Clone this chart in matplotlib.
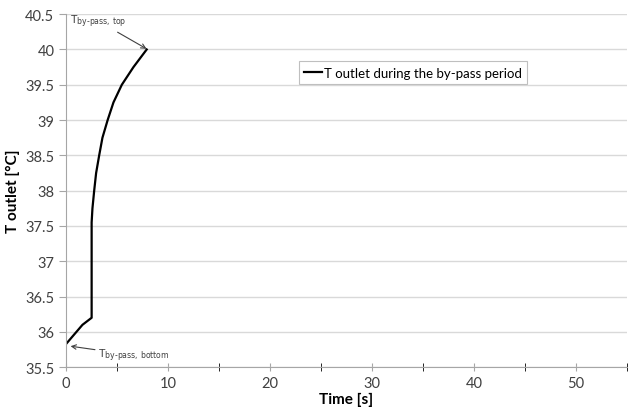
import matplotlib
matplotlib.use("Agg")
import matplotlib.pyplot as plt
from matplotlib.ticker import MultipleLocator

plt.rcParams['font.family'] = ['Lato', 'DejaVu Sans']

# data
time_s = [0.0, 1.6, 2.5, 2.5, 2.58, 2.75, 2.94, 3.24, 3.56, 4.07, 4.64, 5.46, 6.6, 7.9]
t_outlet = [35.83, 36.1, 36.2, 37.55, 37.75, 38.0, 38.25, 38.5, 38.75, 39.0, 39.25, 39.5, 39.75, 40.0]

fig = plt.figure(figsize=(6.3, 4.1), dpi=100)
ax = fig.add_axes([0.105, 0.102, 0.89, 0.861])

ax.plot(time_s, t_outlet, color='black', lw=1.6, label='T outlet during the by-pass period')

ax.set_xlim(0, 55)
ax.set_ylim(35.5, 40.5)
ax.xaxis.set_major_locator(MultipleLocator(10))
ax.xaxis.set_minor_locator(MultipleLocator(5))
ax.yaxis.set_major_locator(MultipleLocator(0.5))
ax.set_yticklabels([f'{v:g}' for v in ax.get_yticks()])

ax.grid(axis='y', color='#d9d9d9', lw=1)
ax.set_axisbelow(True)
for s in ['top', 'right']:
    ax.spines[s].set_visible(False)
for s in ['left', 'bottom']:
    ax.spines[s].set_color('#a6a6a6')
ax.tick_params(axis='both', colors='#a6a6a6', labelcolor='#404040', labelsize=10.5)
ax.tick_params(axis='y', length=5)
ax.tick_params(axis='x', which='both', direction='inout', length=6)

ax.set_xlabel('Time [s]', fontsize=11, fontweight='bold', labelpad=1)
ax.set_ylabel('T outlet [°C]', fontsize=11, fontweight='bold', labelpad=4)

ax.annotate(r'T$_{\rm by\text{-}pass,\,top}$', xy=(8.0, 40.0), xytext=(0.4, 40.4),
            fontsize=8, color='#404040', va='center',
            arrowprops=dict(arrowstyle='->', color='#404040', lw=0.8,
                            shrinkA=0, shrinkB=1))
ax.annotate(r'T$_{\rm by\text{-}pass,\,bottom}$', xy=(0.3, 35.8), xytext=(3.1, 35.67),
            fontsize=8, color='#404040', va='center',
            arrowprops=dict(arrowstyle='->', color='#404040', lw=0.8,
                            shrinkA=0, shrinkB=1))

leg = ax.legend(loc='upper left', bbox_to_anchor=(0.403, 0.885), fontsize=9.5,
                handlelength=1.4, handletextpad=0.1, borderpad=0.4,
                fancybox=False, framealpha=1, edgecolor='#bfbfbf')
leg.get_frame().set_linewidth(0.8)

fig.savefig('out.png', dpi=100)
